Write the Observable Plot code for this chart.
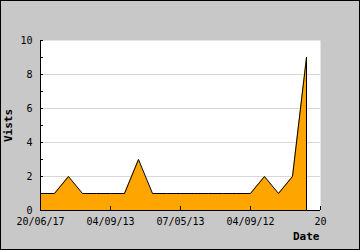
<!DOCTYPE html>
<html>
<head>
<meta charset="utf-8">
<script src="https://cdn.jsdelivr.net/npm/d3@7"></script>
<script src="https://cdn.jsdelivr.net/npm/@observablehq/plot@0.6"></script>
<style>
  html, body { margin: 0; padding: 0; background: #c8c8c8; }
  #chart svg { display: block; outline: 1px solid #000; outline-offset: -1px; }
</style>
</head>
<body>
<div id="chart"></div>
<script>
const visits = [1, 1, 2, 1, 1, 1, 1, 3, 1, 1, 1, 1, 1, 1, 1, 1, 2, 1, 2, 9];
const xTickPositions = [0, 5, 10, 15, 20];
const xTickLabels = ["20/06/17", "04/09/13", "07/05/13", "04/09/12", "20"];
const yTickMarks = [0, 1, 2, 3, 4, 5, 6, 7, 8, 9, 10];
const yTickLabels = [0, 2, 4, 6, 8, 10];
const yGrid = [2, 4, 6, 8];
const xTitle = "Date";
const yTitle = "Vists";

const data = visits.map((v, i) => ({i, v}));
const last = data[data.length - 1];
const font = "'DejaVu Sans Mono', monospace";

const chart = Plot.plot({
  width: 360,
  height: 250,
  marginLeft: 40,
  marginRight: 40,
  marginTop: 40,
  marginBottom: 40,
  style: {background: "#c8c8c8", fontFamily: font, fontSize: "10px", color: "#000"},
  x: {domain: [0, 20], axis: null},
  y: {domain: [0, 10], axis: null},
  marks: [
    Plot.frame({fill: "white", stroke: null}),
    Plot.gridY(yGrid, {stroke: "#d8d8d8", strokeOpacity: 1}),
    Plot.areaY(data, {x: "i", y: "v", fill: "#ffa500"}),
    Plot.lineY(data, {x: "i", y: "v", stroke: "#000", strokeWidth: 1}),
    Plot.ruleX([last], {x: "i", y1: 0, y2: "v", stroke: "#000"}),
    Plot.ruleX([0], {stroke: "#000"}),
    Plot.ruleY([0], {stroke: "#000"}),
    Plot.ruleY(yTickMarks, {y: d => d, x1: 0, x2: 0, insetRight: -3, stroke: "#000"}),
    Plot.ruleX(xTickPositions, {x: d => d, y1: 0, y2: 0, insetTop: -4, stroke: "#000"}),
    Plot.axisY(yTickLabels, {tickSize: 0, tickPadding: 8, fontSize: 10, fontFamily: font, label: null}),
    Plot.axisX(xTickPositions, {tickSize: 0, tickPadding: 7, fontSize: 10, fontFamily: font, label: null,
      tickFormat: d => xTickLabels[xTickPositions.indexOf(d)]}),
    Plot.text([xTitle], {frameAnchor: "bottom-right", dx: -1, dy: 26, textAnchor: "end", lineAnchor: "middle",
      fontWeight: "bold", fontSize: 11, fontFamily: font, fill: "#000"}),
    Plot.text([yTitle], {frameAnchor: "left", dx: -32, rotate: -90, textAnchor: "middle", lineAnchor: "middle",
      fontWeight: "bold", fontSize: 11, fontFamily: font, fill: "#000"})
  ]
});
document.getElementById("chart").append(chart);
</script>
</body>
</html>
